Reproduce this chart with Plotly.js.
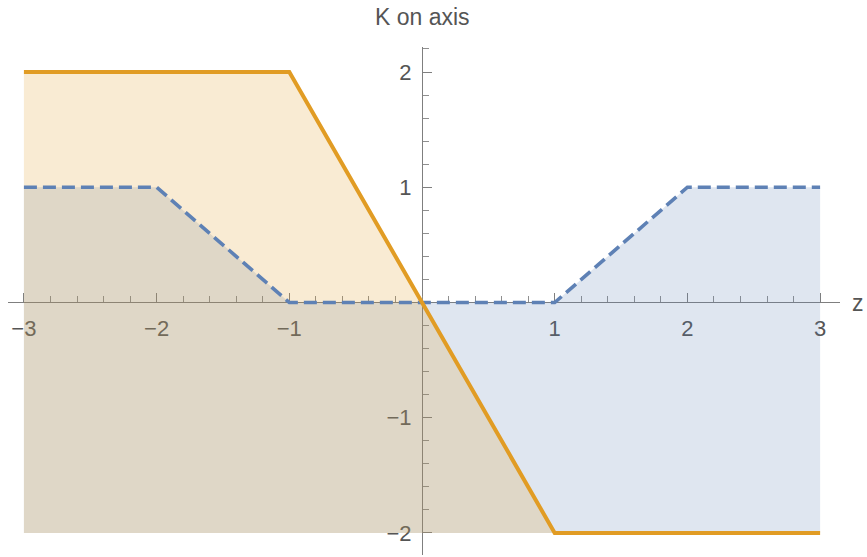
<!DOCTYPE html>
<html>
<head>
<meta charset="utf-8">
<script src="https://cdn.plot.ly/plotly-3.0.1.min.js"></script>
<style>html,body{margin:0;padding:0;background:#fff;}#chart{width:867px;height:557px;}</style>
</head>
<body>
<div id="chart"></div>
<script>
// Data
const z = [-3, -2, -1, 0, 1, 2, 3];
const kOrange = [2, 2, 2, 0, -2, -2, -2];
const kBlue = [1, 1, 0, 0, 0, 1, 1];
const fillBottom = -2;
const xTickVals = [-3, -2, -1, 1, 2, 3];
const xTickText = ['\u22123', '\u22122', '\u22121', '1', '2', '3'];
const yTickVals = [-2, -1, 1, 2];
const yTickText = ['\u22122', '\u22121', '1', '2'];

const ORANGE = 'rgb(225,156,36)';
const BLUE = 'rgb(94,129,181)';

function poly(xs, ys, base) {
  const px = xs.concat(xs.slice().reverse());
  const py = ys.concat(xs.map(() => base));
  return {x: px, y: py};
}
const pb = poly(z, kBlue, fillBottom);
const po = poly(z, kOrange, fillBottom);

const xr = [-3.12, 3.15];
const yr = [-2.191, 2.217];

const traces = [
  {x: pb.x, y: pb.y, type: 'scatter', mode: 'lines', fill: 'toself',
   fillcolor: 'rgba(94,129,181,0.2)', line: {width: 0}, hoverinfo: 'skip'},
  {x: po.x, y: po.y, type: 'scatter', mode: 'lines', fill: 'toself',
   fillcolor: 'rgba(225,156,36,0.2)', line: {width: 0}, hoverinfo: 'skip'},
  {x: z, y: kBlue, type: 'scatter', mode: 'lines',
   line: {color: BLUE, width: 3.6, dash: '13px,6px'}},
  {x: z, y: kOrange, type: 'scatter', mode: 'lines',
   line: {color: ORANGE, width: 4}}
];

const axFont = {family: 'Liberation Sans, Arial, sans-serif', size: 22, color: '#555'};
const titleFont = {family: 'Liberation Sans, Arial, sans-serif', size: 23, color: '#555'};

const layout = {
  width: 867, height: 557,
  margin: {l: 8, r: 27, t: 47, b: 2},
  paper_bgcolor: '#fff', plot_bgcolor: '#fff',
  showlegend: false,
  xaxis: {
    range: xr, anchor: 'free', position: (0 - yr[0]) / (yr[1] - yr[0]), layer: 'below traces',
    showgrid: false, zeroline: false, showline: true, linecolor: '#7f7f7f', linewidth: 1,
    ticks: 'inside', ticklen: 9, tickcolor: '#7f7f7f', tickwidth: 1,
    tickvals: xTickVals, ticktext: xTickText, tickfont: axFont, ticklabelstandoff: 6,
    minor: {dtick: 0.2, tick0: 0, ticks: 'inside', ticklen: 6, tickcolor: '#8f8f8f', tickwidth: 1, showgrid: false}
  },
  yaxis: {
    range: yr, anchor: 'free', position: (0 - xr[0]) / (xr[1] - xr[0]), layer: 'below traces',
    showgrid: false, zeroline: false, showline: true, linecolor: '#7f7f7f', linewidth: 1,
    ticks: 'inside', ticklen: 9, tickcolor: '#7f7f7f', tickwidth: 1,
    tickvals: yTickVals, ticktext: yTickText, tickfont: axFont, ticklabelstandoff: 6,
    minor: {dtick: 0.2, tick0: 0, ticks: 'inside', ticklen: 6, tickcolor: '#8f8f8f', tickwidth: 1, showgrid: false}
  },
  annotations: [
    {text: 'K on axis', xref: 'paper', yref: 'paper', x: (0 - xr[0]) / (xr[1] - xr[0]), y: 1,
     yshift: 30, xanchor: 'center', yanchor: 'middle', showarrow: false, font: titleFont},
    {text: 'z', xref: 'paper', yref: 'y', x: 1, y: 0, xshift: 10, xanchor: 'left', yanchor: 'middle',
     showarrow: false, font: titleFont}
  ]
};

Plotly.newPlot('chart', traces, layout, {displayModeBar: false, staticPlot: true});
</script>
</body>
</html>
